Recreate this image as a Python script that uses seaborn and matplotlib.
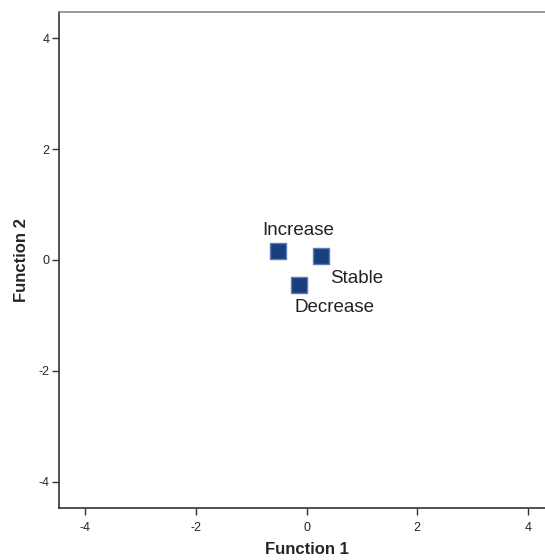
import matplotlib
matplotlib.use("Agg")
import matplotlib.pyplot as plt
import seaborn as sns
import pandas as pd

# group centroids on the discriminant functions
groups = ["Increase", "Stable", "Decrease"]
func1 = [-0.51, 0.27, -0.13]
func2 = [0.16, 0.07, -0.45]
# label offsets in points (dx, dy)
label_dx = [14, 25, 25]
label_dy = [15, -16, -16]

df = pd.DataFrame({"Function 1": func1, "Function 2": func2, "group": groups})

sns.set_style("white")
plt.rcParams["font.family"] = ["Arial", "Liberation Sans", "DejaVu Sans"]

fig = plt.figure(figsize=(5.45, 5.6), dpi=100)
ax = fig.add_axes([59 / 545, 52 / 560, 495 / 545, 496 / 560])

sns.scatterplot(data=df, x="Function 1", y="Function 2", marker="s", s=120,
                color="#183f7c", edgecolor="#5a7fb5", linewidth=1.0, ax=ax, zorder=3)

for g, x, y, dx, dy in zip(groups, func1, func2, label_dx, label_dy):
    ax.annotate(g, (x, y), xytext=(dx, dy), textcoords="offset points",
                ha="center", va="center", fontsize=13.5, color="#222222")

ax.set_xlim(-4.47, 4.47)
ax.set_ylim(-4.47, 4.47)
ax.set_xticks([-4, -2, 0, 2, 4])
ax.set_yticks([-4, -2, 0, 2, 4])
ax.set_xticklabels(["-4", "-2", "0", "2", "4"])
ax.set_yticklabels(["-4", "-2", "0", "2", "4"])
ax.tick_params(axis="both", direction="out", length=5, width=1, color="#333333",
               labelsize=9, bottom=True, left=True)
ax.tick_params(axis="x", pad=5)
ax.tick_params(axis="y", pad=2)

for side, sp in ax.spines.items():
    sp.set_color("#333333" if side in ("left", "bottom") else "#888888")
    sp.set_linewidth(1.2)

ax.set_xlabel("Function 1", fontsize=12, fontweight="bold", labelpad=6)
ax.set_ylabel("Function 2", fontsize=12, fontweight="bold", labelpad=7)

fig.savefig("out.png", dpi=100)
